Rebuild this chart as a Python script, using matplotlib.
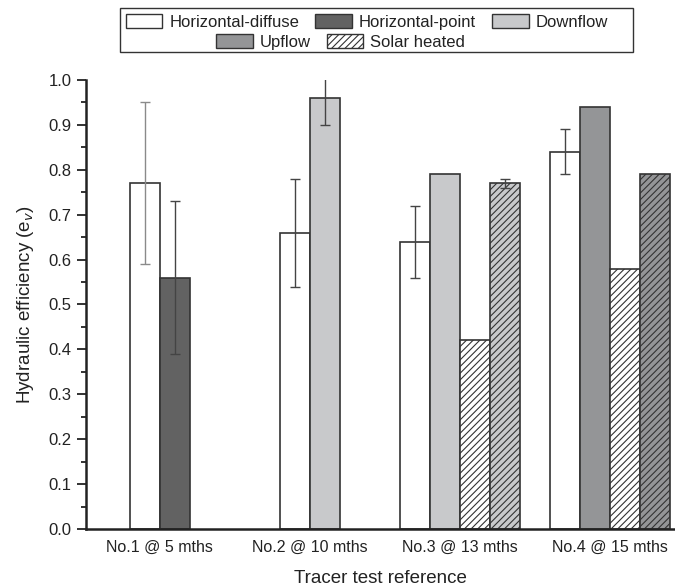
import matplotlib
matplotlib.use('Agg')
import matplotlib.pyplot as plt
import numpy as np
from matplotlib.patches import Patch, Rectangle
from matplotlib.ticker import MultipleLocator

plt.rcParams['font.family'] = ['Liberation Sans', 'DejaVu Sans']
plt.rcParams['hatch.linewidth'] = 0.8

nan = np.nan

# Data
groups = ['No.1 @ 5 mths', 'No.2 @ 10 mths', 'No.3 @ 13 mths', 'No.4 @ 15 mths']

hd = [0.77, 0.66, 0.64, 0.84]          # Horizontal-diffuse
hd_err = [0.18, 0.12, 0.08, 0.05]
hp = [0.56, nan, nan, nan]             # Horizontal-point
hp_err = [0.17, nan, nan, nan]
down = [nan, 0.96, 0.79, nan]          # Downflow
down_err = [nan, 0.06, nan, nan]
up = [nan, nan, nan, 0.94]             # Upflow
hd_solar = [nan, nan, 0.42, 0.58]      # Horizontal-diffuse, solar heated
down_solar = [nan, nan, 0.77, nan]     # Downflow, solar heated
down_solar_err = [nan, nan, 0.01, nan]
up_solar = [nan, nan, nan, 0.79]       # Upflow, solar heated

edge = '#333333'
c_hd = 'white'
c_hp = '#626262'
c_down = '#c8c9cb'
c_up = '#949597'

series = [
    (hd, hd_err, c_hd, None),
    (hp, hp_err, c_hp, None),
    (down, down_err, c_down, None),
    (up, None, c_up, None),
    (hd_solar, None, c_hd, '/////'),
    (down_solar, down_solar_err, c_down, '/////'),
    (up_solar, None, c_up, '/////'),
]

w = 0.2
fig = plt.figure(figsize=(6.75, 5.86), dpi=100)
ax = fig.add_axes([0.1274, 0.0973, 0.8726, 0.7662])

for g in range(len(groups)):
    present = [s for s in series if not np.isnan(s[0][g])]
    n = len(present)
    for k, (vals, errs, color, hatch) in enumerate(present):
        xpos = g + (k - (n - 1) / 2) * w
        ax.bar(xpos, vals[g], width=w, color=color, edgecolor=edge,
               linewidth=1.2, hatch=hatch, zorder=2)
        if errs is not None and not np.isnan(errs[g]):
            ecol = '#8a8a8a' if (g == 0 and vals is hd) else '#444444'
            ax.errorbar(xpos, vals[g], yerr=errs[g], fmt='none',
                        ecolor=ecol, elinewidth=1.0, capsize=3.3,
                        capthick=1.0, zorder=3)

ax.set_xlim(-0.49, 3.43)
ax.set_ylim(0, 1.0)
ax.set_xticks(range(len(groups)))
ax.set_xticklabels(groups, fontsize=11.5, color='#222222')
ax.tick_params(axis='x', length=0, pad=8)
ax.yaxis.set_major_locator(MultipleLocator(0.1))
ax.yaxis.set_minor_locator(MultipleLocator(0.05))
ax.yaxis.set_major_formatter(plt.FuncFormatter(lambda v, p: f'{v:.1f}'))
ax.tick_params(axis='y', which='major', direction='out', length=6.5, pad=4,
               width=1.3, labelsize=12, labelcolor='#222222', color='#222222')
ax.tick_params(axis='y', which='minor', direction='out', length=3.5,
               width=1.3, color='#222222')

for s in ['top', 'right']:
    ax.spines[s].set_visible(False)
for s in ['left', 'bottom']:
    ax.spines[s].set_linewidth(1.8)
    ax.spines[s].set_color('#222222')

ax.set_xlabel('Tracer test reference', fontsize=13.5, color='#222222', labelpad=11)
ax.set_ylabel('Hydraulic efficiency (e$_v$)', fontsize=13.5, color='#222222', labelpad=9)

# Legend: two rows, framed by one box
h_hd = Patch(facecolor=c_hd, edgecolor=edge, linewidth=1.0)
h_hp = Patch(facecolor=c_hp, edgecolor=edge, linewidth=1.0)
h_down = Patch(facecolor=c_down, edgecolor=edge, linewidth=1.0)
h_up = Patch(facecolor=c_up, edgecolor=edge, linewidth=1.0)
h_solar = Patch(facecolor='white', edgecolor=edge, linewidth=1.0, hatch='/////')

common = dict(loc='center', frameon=False, fontsize=12, handlelength=2.2,
              handleheight=0.85, handletextpad=0.42, columnspacing=0.96,
              borderpad=0, borderaxespad=0)
leg1 = fig.legend([h_hd, h_hp, h_down],
                  ['Horizontal-diffuse', 'Horizontal-point', 'Downflow'],
                  ncol=3, bbox_to_anchor=(0.5437, 0.9625), **common)
leg2 = fig.legend([h_up, h_solar], ['Upflow', 'Solar heated'],
                  ncol=2, bbox_to_anchor=(0.5044, 0.9283), **common)
for leg in (leg1, leg2):
    for t in leg.get_texts():
        t.set_color('#222222')

fig.patches.append(Rectangle((0.1778, 0.9113), 0.76, 0.0751,
                             transform=fig.transFigure, fill=False,
                             edgecolor='#333333', linewidth=1.0))

fig.savefig('out.png', dpi=100)
